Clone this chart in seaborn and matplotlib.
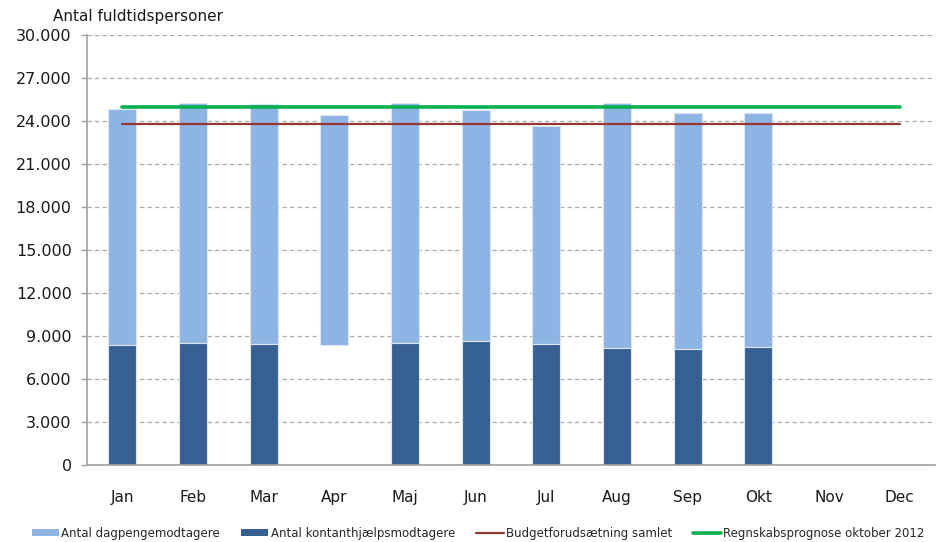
import numpy as np
import pandas as pd
import matplotlib
matplotlib.use("Agg")
import matplotlib.pyplot as plt
import seaborn as sns
from matplotlib.patches import Patch
from matplotlib.lines import Line2D
from matplotlib.ticker import FuncFormatter, FixedLocator

months = ["Jan", "Feb", "Mar", "Apr", "Maj", "Jun", "Jul", "Aug", "Sep", "Okt", "Nov", "Dec"]
# total level (top of stacked bar)
total = [24840, 25260, 25190, 24420, 25260, 24770, 23680, 25260, 24590, 24590, np.nan, np.nan]
# kontanthjælp (bottom segment); April segment not shown in source
kontant = [8370, 8510, 8440, 8370, 8510, 8650, 8440, 8160, 8090, 8230, np.nan, np.nan]
kontant_shown = [True, True, True, False, True, True, True, True, True, True, False, False]
budget = [23800] * 12
prognose = [25000] * 12

light = "#8EB4E3"
dark = "#376092"
red = "#953735"
green = "#00B050"

sns.set_style("white")
plt.rcParams["font.family"] = ["DejaVu Sans"]

fig = plt.figure(figsize=(9.39, 5.42), dpi=100)
ax = fig.add_axes([87 / 939, 1 - 465 / 542, (935 - 87) / 939, (465 - 35) / 542])

df = pd.DataFrame({"month": months, "total": total, "kontant": kontant})

sns.barplot(data=df, x="month", y="total", color=light, width=0.4, ax=ax,
            edgecolor="#dce6f2", linewidth=0.8, saturation=1, zorder=2)
light_patches = list(ax.patches)
# light segment begins on top of the kontanthjælp level
for p, b in zip(light_patches, kontant):
    if not np.isnan(b):
        top = p.get_y() + p.get_height()
        p.set_y(b)
        p.set_height(top - b)

sns.barplot(data=df, x="month", y="kontant", color=dark, width=0.4, ax=ax,
            edgecolor="#dce6f2", linewidth=0.8, saturation=1, zorder=2)
dark_patches = list(ax.patches)[len(light_patches):]
for p, show in zip(dark_patches, kontant_shown):
    if not show:
        p.set_visible(False)

xpos = np.arange(len(months))
sns.lineplot(x=xpos, y=budget, color=red, linewidth=1.6, ax=ax, zorder=3)
sns.lineplot(x=xpos, y=prognose, color=green, linewidth=2.6, ax=ax, zorder=3)

ax.set_xlim(-0.5, 11.5)
ax.set_ylim(0, 30000)
ax.set_yticks(np.arange(0, 30001, 3000))
ax.yaxis.set_major_formatter(FuncFormatter(lambda v, _: f"{int(v):,}".replace(",", ".")))
ax.grid(axis="y", color="#ababab", linestyle=(0, (3.5, 2.5)), linewidth=0.9)
ax.set_axisbelow(True)

ax.set_xlabel("")
ax.set_ylabel("")
ax.xaxis.set_minor_locator(FixedLocator(np.arange(-0.5, 12, 1)))
ax.tick_params(axis="x", which="major", length=0, pad=18, labelsize=11, colors="#1a1a1a")
ax.tick_params(axis="x", which="minor", length=5, width=1, color="#a0a0a0", direction="out")
ax.tick_params(axis="y", which="major", length=4, width=1, color="#a0a0a0", direction="out",
               labelsize=11.5, labelcolor="#1a1a1a", pad=7, left=True)

for s in ["top", "right"]:
    ax.spines[s].set_visible(False)
for s in ["left", "bottom"]:
    ax.spines[s].set_color("#a0a0a0")
    ax.spines[s].set_linewidth(1.2)

fig.text(53 / 939, 1 - 16 / 542, "Antal fuldtidspersoner", fontsize=11, va="center", ha="left",
         color="#1a1a1a")

handles = [
    Patch(facecolor=light, edgecolor="none"),
    Patch(facecolor=dark, edgecolor="none"),
    Line2D([0], [0], color=red, linewidth=1.6),
    Line2D([0], [0], color=green, linewidth=2.6),
]
labels = ["Antal dagpengemodtagere", "Antal kontanthjælpsmodtagere",
          "Budgetforudsætning samlet", "Regnskabsprognose oktober 2012"]
fig.legend(handles, labels, loc="center", bbox_to_anchor=(478 / 939, 1 - 533 / 542), ncol=4,
           frameon=False, fontsize=8.5, handlelength=2.3, handleheight=0.6,
           handletextpad=0.2, columnspacing=1.8)

fig.savefig("out.png", dpi=100)
